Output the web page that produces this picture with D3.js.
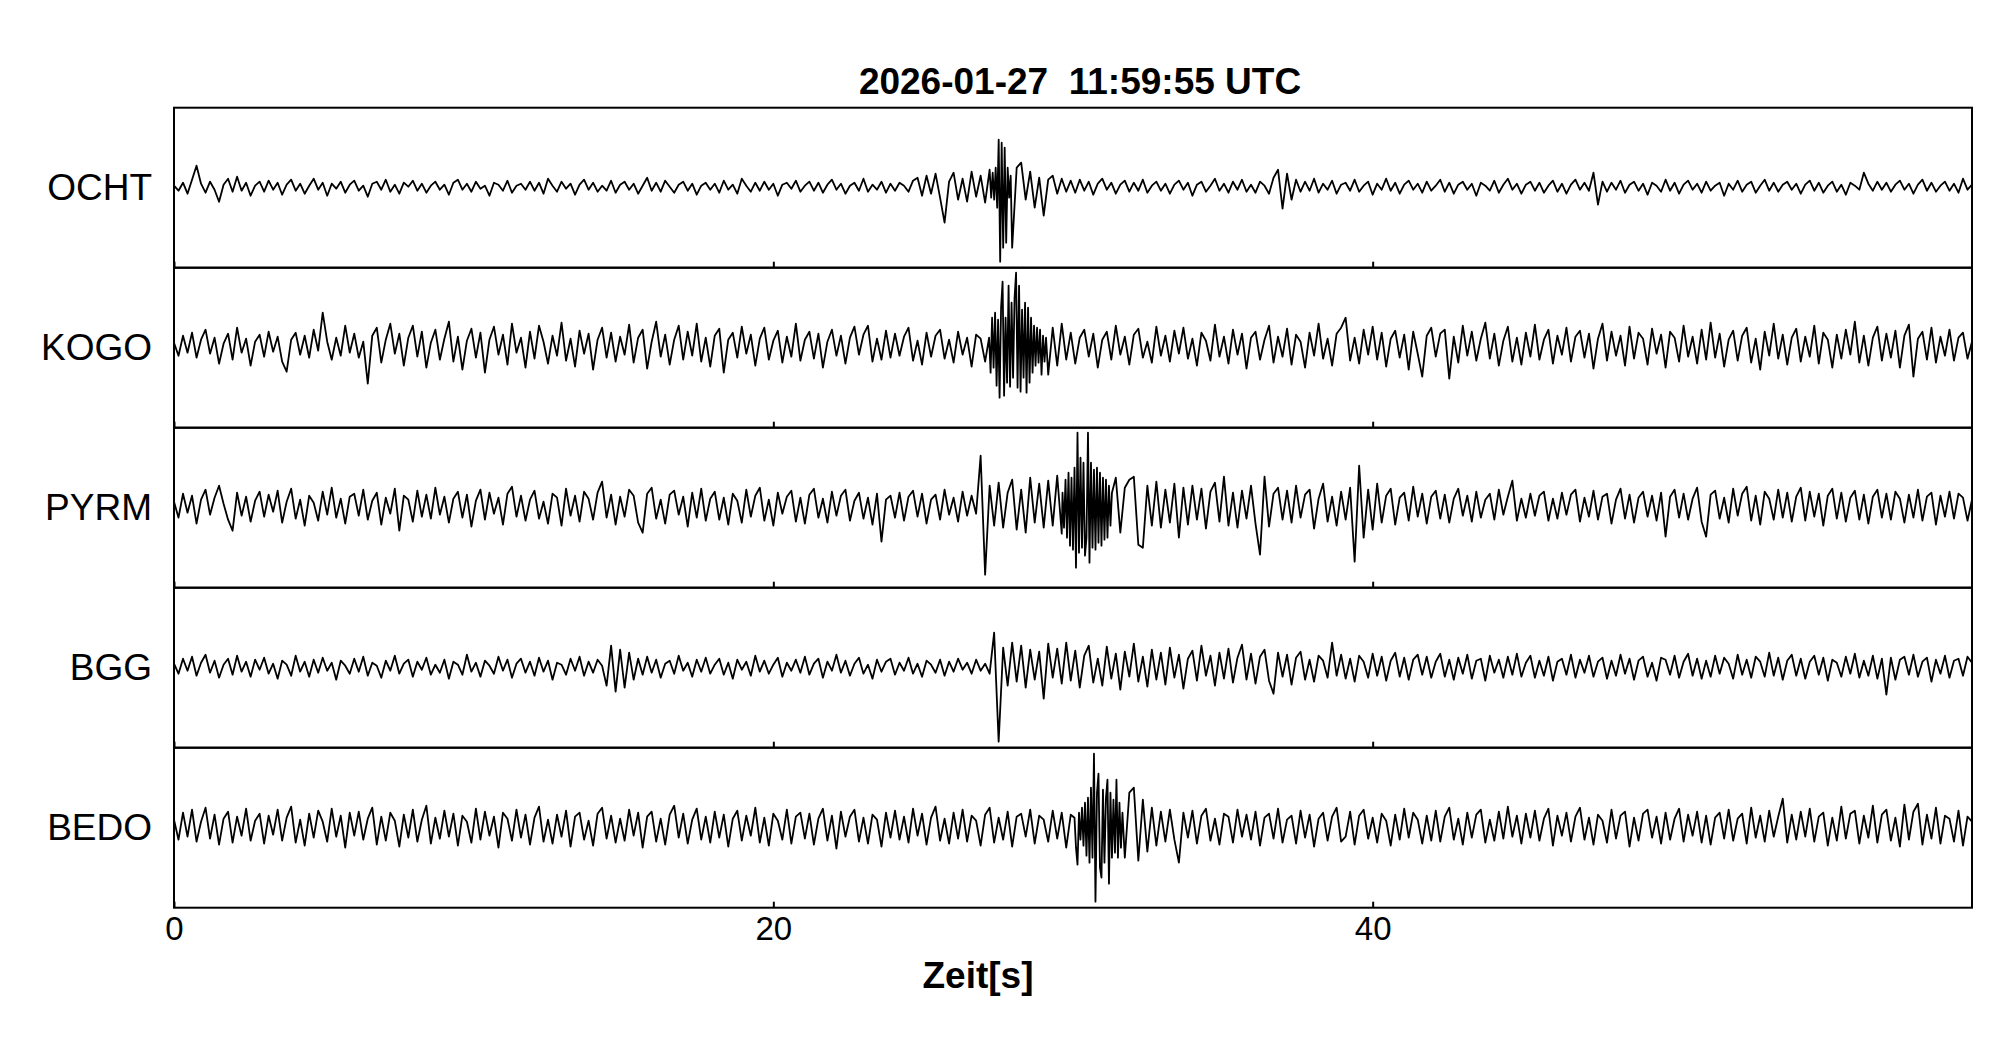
<!DOCTYPE html>
<html>
<head>
<meta charset="utf-8">
<script src="https://cdn.jsdelivr.net/npm/d3@7"></script>
<style>
  html, body { margin: 0; padding: 0; background: #fff; }
  svg { display: block; }
  text { font-family: "Liberation Sans", Arial, Helvetica, sans-serif; fill: #000; }
</style>
</head>
<body>
<svg id="chart" width="2005" height="1041"></svg>
<script>
// ---- Data (amplitudes, arbitrary units, + = up) ----
const title = "2026-01-27  11:59:55 UTC";
const xLabel = "Zeit[s]";
const stations = ["OCHT", "KOGO", "PYRM", "BGG", "BEDO"];
const timeDomain = [0, 60];
const tickValues = [0, 20, 40];

// coarse traces: 400 samples evenly spread over 0..60 s
const OCHT = [
  2,-3,5,-6,8,22,4,-5,6,-2,-14,3,9,-4,11,-3,5,-8,2,6,
  -4,7,-2,5,-7,3,8,-3,4,-6,2,9,-2,5,-8,4,-1,6,-5,3,
  7,-3,2,-9,4,6,-2,8,-4,3,-6,5,1,7,-3,4,-5,2,6,-2,
  3,-7,5,8,-2,4,-4,6,-1,2,-8,5,3,-3,7,-5,2,4,-2,6,
  -3,5,-6,9,2,-4,6,-1,4,-7,3,8,-2,5,-4,2,-3,7,-5,3,
  6,-2,4,-6,2,10,-3,5,-4,7,1,-5,3,6,-3,4,-7,2,5,-2,
  4,-5,7,-2,3,-6,9,2,-4,5,-3,6,-2,4,-8,3,5,-1,7,-4,
  2,6,-3,5,-5,3,8,-2,4,-6,2,5,-3,9,-4,3,-2,6,-5,4,
  -3,5,2,-4,7,10,-8,12,-6,14,-10,-35,6,15,-12,9,-14,16,-9,12,
  -15,18,-6,48,-74,45,-60,20,25,-12,16,-20,10,-28,8,12,-6,9,-4,7,
  -5,8,-3,6,-7,4,9,-2,5,-6,3,7,-4,5,-3,8,-5,2,6,-3,
  4,-6,3,7,-2,5,-8,3,6,-4,2,9,-3,4,-5,6,-2,8,-4,3,
  -5,6,2,-6,10,18,-21,14,-12,8,-4,6,-3,9,-5,4,-2,7,-6,3,
  5,-3,8,-4,2,6,-7,4,-2,9,-3,5,-6,3,7,-2,4,-5,6,-3,
  2,8,-4,5,-6,3,6,-2,4,-8,5,2,-3,7,-5,3,9,-2,4,-6,
  3,6,-3,5,-5,2,7,-4,4,-6,3,8,-2,5,-3,15,-17,6,-4,5,
  -2,7,-5,3,6,-3,4,-7,5,2,-4,8,-3,5,-6,3,7,-2,4,-5,
  6,-3,2,5,-8,4,-2,7,-4,3,6,-5,2,8,-3,5,-4,3,6,-2,
  4,-6,3,7,-3,5,-5,2,6,-4,3,-7,5,2,-2,15,4,-3,6,-2,
  5,-4,3,7,-2,4,-6,3,8,-3,5,-4,2,6,-3,4,-5,9,-2,3
];

const KOGO = [
  5,-8,12,-5,15,-10,8,18,-6,10,-16,4,14,-12,20,-5,9,-18,6,13,
  -9,16,-4,11,-14,-24,8,15,-7,12,-10,18,-3,35,6,-12,10,-8,22,-5,
  14,-10,6,-36,12,20,-15,8,24,-6,14,-18,10,22,-9,16,-20,5,18,-12,
  9,26,-14,11,-22,7,19,-10,15,-25,8,21,-7,13,-17,24,-5,10,-20,16,
  -11,22,6,-16,12,-8,25,-13,9,-19,17,-6,14,-22,8,20,-10,15,-14,11,
  -7,23,-15,10,18,-21,6,26,-9,13,-17,8,22,-12,16,-8,24,-14,10,-19,
  12,19,-25,8,15,-10,21,-6,13,-18,9,20,-12,7,17,-15,11,-9,24,-13,
  8,16,-11,14,-20,6,18,-8,12,-16,10,21,-7,13,22,-14,9,-12,17,-10,
  14,-8,11,20,-13,7,-17,15,-9,12,18,-11,8,-15,16,-7,10,-19,13,9,
  -14,25,-30,-50,66,-48,40,75,-35,55,-45,38,-42,30,-27,20,-18,24,-12,15,
  -16,10,18,-9,14,-20,8,16,-12,22,-7,11,-17,13,19,-10,6,-15,21,-8,
  12,-14,17,-6,20,-11,9,-18,15,7,-13,23,-9,11,-16,18,-7,14,-21,10,
  16,-12,8,22,-15,11,-9,19,-17,13,6,-20,15,-8,24,-11,9,-18,14,20,
  30,-13,10,-16,18,-7,21,-12,15,-19,9,17,-10,13,-22,16,-6,-29,12,20,
  -9,14,18,-31,11,-15,22,-8,16,-13,9,25,-11,14,-18,7,21,-14,10,-17,
  15,-9,23,-12,8,18,-16,12,-7,20,-14,11,17,-10,14,-21,9,24,-13,16,
  -8,12,-18,21,-11,15,9,-17,19,-6,13,-20,16,10,-14,22,-9,11,-16,18,
  -12,25,-10,14,-19,8,17,-13,12,20,-15,9,-22,16,-8,24,-11,13,-17,10,
  19,-14,11,-9,22,-16,15,8,-20,13,-11,18,-7,26,-15,12,-18,10,21,-13,
  14,-10,17,-20,12,23,-29,9,16,-12,20,-15,11,-8,18,-13,10,15,-11,6
];

const PYRM = [
  6,-10,14,-5,12,-16,8,18,-7,10,22,4,-12,-23,15,-8,11,-14,7,16,
  -9,13,-4,17,-15,6,19,-11,8,-18,12,5,-13,16,-7,20,-10,9,-16,11,
  14,-8,18,-12,7,15,-17,10,-6,19,-23,12,8,-14,17,-9,13,-11,20,-7,
  11,-15,9,16,-10,13,-19,7,18,-12,15,-6,10,-17,14,21,-9,12,-13,8,
  17,-11,6,-16,14,10,-18,19,-8,12,-14,16,9,-12,15,26,-10,13,-17,11,
  -9,18,12,-15,-25,14,20,-11,8,-16,13,17,-7,11,-19,15,-10,19,-13,9,
  16,-12,10,-17,14,7,-15,18,-9,12,20,-13,8,-18,15,-6,11,17,-14,10,
  -16,13,19,-10,9,-15,16,-8,12,18,-13,7,15,-11,10,-17,14,-34,8,12,
  -10,15,-13,11,17,-9,14,-16,8,13,-12,18,-7,10,-14,16,-8,12,-6,52,
  -67,22,-18,25,-20,15,28,-22,18,-25,30,-15,24,-20,27,-18,32,-26,35,-30,
  75,-60,45,75,-55,50,-45,40,-38,30,-25,20,28,31,-37,-40,22,-18,26,-20,
  18,-15,24,-30,20,-17,22,-12,19,-21,16,25,-14,31,-18,15,-20,17,-11,22,
  -16,-47,31,-19,14,20,-12,17,-15,22,-10,13,18,-21,9,24,-14,11,-18,16,
  -12,20,-54,42,-30,18,-22,24,-15,12,19,-17,10,15,-13,21,-9,14,-16,11,
  17,-11,13,-15,9,19,-8,12,-14,16,-10,8,14,-12,18,-7,11,27,-13,9,
  -10,14,-8,12,16,-13,9,-11,15,-7,13,18,-14,10,-9,17,-12,11,14,-16,
  8,19,-11,13,-15,10,16,-9,12,-13,15,-29,11,18,-10,14,-12,9,20,-14,
  -29,13,17,-11,10,-15,19,-8,14,21,-13,12,-17,16,9,-12,18,-10,15,-14,
  11,20,-13,16,-9,14,-18,12,19,-11,15,-14,10,17,-12,13,-16,11,18,-10,
  14,-12,16,9,-15,13,-10,18,-13,11,15,-17,12,-9,16,-11,14,10,-13,8
];

const BGG = [
  4,-6,9,-3,11,-8,5,13,-5,7,-10,3,9,-7,12,-4,6,-9,8,-2,
  10,-6,4,-11,7,3,-8,12,-4,6,-9,8,-5,10,-3,5,-12,7,2,-6,
  9,-4,11,-8,5,2,-10,7,-3,12,-6,4,8,-9,6,-2,10,-7,3,-5,
  8,-11,6,3,-7,13,-4,5,-9,7,2,-6,11,-3,8,-10,4,9,-5,6,
  -8,10,-4,7,-12,5,3,-7,9,-3,11,-8,6,-5,8,2,-18,22,-24,18,
  -20,15,-12,9,-7,11,-5,8,-10,4,7,-6,12,-3,5,-9,8,-4,10,-6,
  3,9,-7,5,-11,8,-2,6,-8,12,-4,7,-6,3,10,-9,5,-3,8,-5,
  11,-7,4,9,-10,6,-3,13,-5,7,-8,4,10,-6,3,-11,8,-4,6,9,
  -7,5,-3,10,-6,4,-9,7,3,-5,8,-8,6,-4,9,-2,5,-6,8,-3,
  4,-6,35,-74,20,-18,25,-14,22,-20,18,-12,16,-31,24,-10,19,-16,25,-13,
  17,-20,12,22,-15,9,-18,21,-11,14,-22,16,-9,24,-14,11,-19,18,-12,15,
  -17,20,-10,13,-21,9,17,-13,22,-8,12,-18,15,-11,19,-15,10,23,-12,14,
  -16,11,18,-13,-26,15,-9,13,-17,10,16,-12,8,-14,12,7,-10,25,-8,13,
  -11,9,-14,12,6,-10,14,-8,11,-13,7,15,-9,10,-12,8,13,-7,11,-10,
  6,14,-9,8,-12,10,-6,13,-11,7,9,-13,12,-5,8,-10,11,-7,14,-9,
  5,12,-10,7,-8,11,-13,6,9,-7,13,-10,8,-5,12,-9,6,10,-11,7,
  -8,13,-6,9,-12,7,11,-9,5,-13,10,8,-7,12,-10,6,14,-8,9,-11,
  7,-9,12,-6,10,4,-11,13,-7,8,-10,11,6,-9,15,-8,10,-12,7,13,
  -8,9,-11,6,12,-7,10,-13,8,5,-9,11,-6,14,-10,7,-8,12,-11,9,
  -27,10,-12,8,11,-7,13,-9,6,10,-14,8,-6,12,-10,7,9,-8,11,5
];

const BEDO = [
  8,-12,15,-9,18,-14,6,20,-11,13,-17,9,16,-15,11,-8,19,-13,7,14,
  -16,12,-7,18,-13,10,21,-15,8,-18,14,-10,17,6,-14,19,-9,12,-20,15,
  -8,16,-12,9,20,-17,11,-13,15,7,-19,13,-10,18,-14,8,22,-16,10,-11,
  17,-9,14,-18,12,6,-15,19,-12,16,-8,11,-20,15,9,-13,18,-10,13,-17,
  10,21,-14,8,-16,13,-9,17,-19,11,15,-12,7,-18,14,20,-11,12,-15,9,
  -13,18,-8,15,-20,11,16,-14,9,-17,13,22,-10,14,-16,8,19,-12,11,-15,
  16,-10,13,-19,9,17,-13,12,-8,20,-15,10,-18,14,7,-12,18,-16,11,15,
  -11,14,-17,9,19,-13,12,-21,16,-9,11,18,-14,10,-16,13,8,-19,15,-10,
  17,-12,11,-15,19,-8,14,-17,10,21,-13,9,-16,15,-11,18,-14,12,7,-18,
  13,20,-15,10,-12,16,-19,11,14,-9,18,-16,12,8,-14,17,-11,15,-20,13,
  10,-37,25,-30,74,-74,54,-50,48,-56,48,-30,35,40,-33,28,-24,20,-18,16,
  -14,18,-12,-35,15,-10,17,-16,12,19,-13,9,-17,14,11,-15,18,-9,13,-12,
  16,-18,10,14,-11,19,-15,8,12,-16,17,-10,13,-19,9,15,-13,11,20,-14,
  -9,16,-17,12,18,-11,10,-15,14,7,-18,13,-12,19,-10,15,8,-16,12,-13,
  17,-14,11,20,-12,9,-17,15,-10,13,18,-15,8,-13,16,-11,21,-9,12,-16,
  14,-10,17,-13,9,19,-18,12,-8,15,-14,11,20,-12,10,-17,13,7,-15,18,
  -11,12,16,-19,10,-13,14,18,-10,11,-16,15,-12,9,19,-14,13,-8,16,-15,
  12,-17,10,15,-11,18,-13,9,14,-16,20,-10,12,-14,17,-9,11,29,-15,13,
  -12,16,-9,19,-14,11,15,-18,10,-13,21,-11,14,17,-16,12,-10,22,-15,13,
  18,-13,10,-19,23,-12,16,24,-17,13,-11,20,-16,12,9,-14,17,-18,11,6
];

// finely sampled event windows (0.05 s steps), replacing the coarse samples there
const burstStep = 0.05;
const burstStart = [27.27, 27.2, 29.65, null, 30.05];
const OCHT_burst = [-10,15,-12,20,-20,48,-74,45,-60,40,-55,20,-10,12];
const KOGO_burst = [10,-25,30,-20,35,-38,28,-50,40,66,-48,30,-35,62,-39,45,-30,50,75,-40,
                    62,-44,38,-30,45,-45,40,-35,30,-25,22,-18,20,-15,18,-27,12,-14,10];
const PYRM_burst = [15,-20,28,-30,35,-38,30,-42,40,-60,75,-45,50,-40,45,-48,-30,75,-55,45,
                    -40,38,-42,40,-35,35,-38,30,-32,28,-30,22,-18,15];
const BEDO_burst = [10,-20,-37,15,-12,20,-18,25,-28,30,-35,40,-30,74,-74,35,54,-40,-50,38,
                    -35,30,48,-56,35,-30,28,-25,48,-30,25,-20,15];

const traces = [OCHT, KOGO, PYRM, BGG, BEDO];
const bursts = [OCHT_burst, KOGO_burst, PYRM_burst, null, BEDO_burst];

// ---- Layout ----
const svg = d3.select("#chart");
const plotLeft = 174, plotRight = 1972, plotTop = 107.7, panelH = 160;
const plotBottom = plotTop + panelH * stations.length;

svg.append("rect").attr("width", 2005).attr("height", 1041).attr("fill", "#fff");

const xScale = d3.scaleLinear().domain(timeDomain).range([plotLeft, plotRight]);

stations.forEach((name, k) => {
  const y0 = plotTop + panelH * k;
  const yScale = d3.scaleLinear().domain([-80, 80]).range([y0 + panelH, y0]);
  const vals = traces[k];
  const n = vals.length;
  const step = (timeDomain[1] - timeDomain[0]) / (n - 1);
  let pts = vals.map((v, i) => ({ t: timeDomain[0] + i * step, v }));
  const b = bursts[k];
  if (b) {
    const t0 = burstStart[k], t1 = t0 + (b.length - 1) * burstStep;
    pts = pts.filter(p => p.t < t0 - 1e-9 || p.t > t1 + 1e-9)
      .concat(b.map((v, j) => ({ t: t0 + j * burstStep, v })));
    pts.sort((a, c) => a.t - c.t);
  }
  const line = d3.line().x(p => xScale(p.t)).y(p => yScale(p.v));

  svg.append("path")
    .datum(pts)
    .attr("d", line)
    .attr("fill", "none")
    .attr("stroke", "#000")
    .attr("stroke-width", 1.8)
    .attr("stroke-linejoin", "round");

  // inward ticks at panel bottom
  const ax = svg.append("g")
    .attr("transform", `translate(0,${y0 + panelH})`)
    .call(d3.axisBottom(xScale).tickValues(tickValues).tickSizeInner(-6).tickSizeOuter(0).tickFormat(""));
  ax.select(".domain").remove();
  ax.selectAll("line").attr("stroke", "#000").attr("stroke-width", 2);

  svg.append("rect")
    .attr("x", plotLeft).attr("y", y0)
    .attr("width", plotRight - plotLeft).attr("height", panelH)
    .attr("fill", "none").attr("stroke", "#000").attr("stroke-width", 2);

  svg.append("text")
    .attr("x", 152).attr("y", y0 + panelH / 2)
    .attr("text-anchor", "end")
    .attr("dominant-baseline", "central")
    .attr("font-size", 37)
    .text(name);
});

// bottom tick labels
const xa = svg.append("g")
  .attr("transform", `translate(0,${plotBottom})`)
  .call(d3.axisBottom(xScale).tickValues(tickValues).tickSize(0).tickPadding(9).tickFormat(d3.format("d")));
xa.select(".domain").remove();
xa.selectAll("text")
  .attr("font-size", 33)
  .style("font-family", "'Liberation Sans', Arial, sans-serif")
  .attr("fill", "#000");

svg.append("text")
  .attr("x", 978).attr("y", 988)
  .attr("text-anchor", "middle")
  .attr("font-size", 37).attr("font-weight", "bold")
  .text(xLabel);

svg.append("text")
  .attr("x", 1080).attr("y", 94)
  .attr("text-anchor", "middle")
  .attr("font-size", 37).attr("font-weight", "bold")
  .style("white-space", "pre")
  .text(title);
</script>
</body>
</html>
